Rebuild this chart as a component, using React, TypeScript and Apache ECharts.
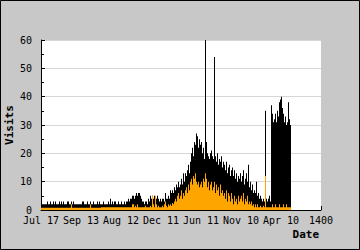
import React, { useEffect, useRef } from "react";
import * as echarts from "echarts";

// One bin = 5 days; bins start at day 0.
const BIN_DAYS = 5;

// Total visits per bin (black)
const visits: number[] = [
  2, 2, 2, 2, 2, 2, 3, 2, 2, 3,
  2, 2, 3, 2, 3, 2, 2, 2, 3, 2,
  3, 2, 3, 2, 2, 2, 3, 3, 2, 2,
  3, 2, 3, 2, 2, 2, 2, 2, 2, 2,
  2, 3, 3, 2, 2, 2, 3, 2, 2, 3,
  2, 2, 3, 2, 2, 2, 3, 2, 3, 2,
  2, 2, 3, 2, 2, 2, 2, 3, 2, 4,
  2, 3, 2, 3, 3, 2, 2, 3, 2, 2,
  3, 2, 2, 3, 2, 3, 3, 4, 3, 4,
  4, 5, 5, 4, 5, 6, 5, 6, 6, 5,
  4, 3, 3, 2, 3, 3, 2, 4, 3, 5,
  4, 5, 4, 5, 4, 4, 5, 4, 3, 4,
  3, 4, 4, 3, 6, 4, 4, 5, 4, 7,
  6, 7, 6, 8, 7, 9, 8, 10, 8, 9,
  11, 9, 13, 10, 13, 12, 14, 16, 13, 17,
  20, 22, 19, 24, 23, 27, 26, 22, 25, 23,
  24, 20, 22, 18, 60, 24, 20, 19, 18, 20,
  21, 19, 18, 54, 19, 17, 20, 16, 18, 17,
  19, 15, 17, 16, 14, 17, 13, 15, 16, 12,
  14, 15, 12, 14, 11, 13, 10, 12, 11, 13,
  10, 12, 14, 9, 11, 13, 10, 16, 8, 10,
  7, 9, 6, 7, 6, 10, 5, 6, 4, 5,
  4, 3, 4, 3, 35, 4, 3, 4, 5, 3,
  37, 34, 31, 32, 34, 31, 35, 33, 38, 39,
  40, 36, 34, 31, 33, 30, 31, 38, 32, 30,
];

// Second series per bin (orange)
const returning: number[] = [
  0.8, 0.8, 0.8, 0.8, 0.8, 0.8, 0.8, 0.8, 0.8, 0.8,
  0.8, 0.8, 0.8, 0.8, 0.8, 0.8, 0.8, 0.8, 0.8, 0.8,
  0.8, 0.8, 0.8, 0.8, 0.8, 0.8, 0.8, 0.8, 0.8, 0.8,
  2, 0.8, 0.8, 0.8, 0.8, 0.8, 0.8, 0.8, 0.8, 0.8,
  0.8, 0.8, 0.8, 0.8, 0.8, 0.8, 0.8, 0.8, 0.8, 2,
  0.8, 0.8, 0.8, 0.8, 0.8, 0.8, 0.8, 0.8, 0.8, 0.8,
  1, 1, 1, 1, 1, 1, 1, 1, 1, 1,
  1, 1, 1, 1, 1, 1, 1, 1, 1, 1,
  1, 1, 1, 1, 1, 1, 1, 1, 1, 1,
  1, 2, 2, 1, 1.5, 1, 2, 1, 1, 1,
  1, 1, 1, 1, 1.5, 1, 1, 1, 1, 1.5,
  1, 5, 2, 1, 5, 2, 1, 1.5, 1, 1,
  1, 1.5, 1, 2, 3, 1.5, 1, 2, 1.5, 2,
  1.5, 2.5, 2, 3, 4, 3, 5, 6, 4, 5,
  7, 4, 6, 5, 7, 8, 6, 9, 7, 10,
  11, 9, 12, 11, 13, 10, 9, 10, 8, 9,
  10, 8, 11, 10, 13, 11, 8, 10, 7, 9,
  10, 7, 8, 10, 6, 9, 7, 8, 5, 9,
  6, 7, 5, 6, 4, 7, 3, 6, 5, 3,
  6, 4, 2, 5, 3, 4, 2, 5, 3, 4,
  5, 3, 6, 2, 4, 3, 5, 2, 3, 2,
  3, 1.5, 2, 1, 2, 1, 2, 1, 1, 1.5,
  1, 1, 1.5, 1, 12, 1, 1, 1, 1, 1,
  1, 2, 1, 1, 2, 1, 1, 1, 2, 1,
  1, 1, 2, 1, 1, 2, 1, 1, 1, 1,
];

const xTickValues: number[] = [0, 200, 400, 600, 800, 1000, 1200, 1400];
const xTickLabels: string[] = ["Jul 17", "Sep 13", "Aug 12", "Dec 11", "Jun 11", "Nov 10", "Apr 10", "1400"];

const FONT = "'DejaVu Sans Mono', monospace";

export default function App() {
  const ref = useRef<HTMLDivElement>(null);
  useEffect(() => {
    if (!ref.current) return;
    const chart = echarts.init(ref.current, undefined, { renderer: "svg" });
    const toPoints = (arr: number[]) => arr.map((v, i) => [i * BIN_DAYS + BIN_DAYS / 2, v]);
    const labelMap: Record<number, string> = {};
    xTickValues.forEach((v, i) => (labelMap[v] = xTickLabels[i]));
    chart.setOption({
      animation: false,
      backgroundColor: "#c8c8c8",
      grid: {
        left: 41, right: 39, top: 40, bottom: 40,
        show: true, backgroundColor: "#ffffff", borderWidth: 0,
        outerBoundsMode: "none",
      },
      xAxis: {
        type: "value", min: 0, max: 1400, interval: 200,
        axisLine: { show: true, lineStyle: { color: "#000", width: 1 } },
        axisTick: { show: true, inside: true, length: 4, lineStyle: { color: "#000" } },
        axisLabel: {
          formatter: (v: number) => labelMap[v] ?? String(v),
          fontFamily: FONT, fontSize: 10, color: "#000", margin: 5,
          showMinLabel: true, showMaxLabel: true,
        },
        splitLine: { show: false },
      },
      yAxis: {
        type: "value", min: 0, max: 60, interval: 10,
        axisLine: { show: true, lineStyle: { color: "#000", width: 1 } },
        axisTick: { show: true, inside: true, length: 4, lineStyle: { color: "#000" } },
        minorTick: { show: true, splitNumber: 2, length: 3, lineStyle: { color: "#000" } },
        axisLabel: { fontFamily: FONT, fontSize: 10, color: "#000", margin: 9 },
        splitLine: { show: true, lineStyle: { color: "#d6d6d6", width: 1 } },
      },
      graphic: [
        {
          type: "text", x: 9, y: 125, rotation: Math.PI / 2,
          style: {
            text: "Visits", font: `bold 11px ${FONT}`, fill: "#000",
            align: "center", verticalAlign: "middle",
          },
        },
        {
          type: "text", right: 41, top: 229,
          style: { text: "Date", font: `bold 11px ${FONT}`, fill: "#000" },
        },
        {
          type: "rect", silent: true, z: 100,
          shape: { x: 0.5, y: 0.5, width: 359, height: 249 },
          style: { fill: "none", stroke: "#000", lineWidth: 1 },
        },
      ],
      series: [
        {
          name: "Visits", type: "bar", data: toPoints(visits),
          barWidth: 1, barGap: "-100%",
          itemStyle: { color: "#000000" },
        },
        {
          name: "Returning", type: "bar", data: toPoints(returning),
          barWidth: 1, barGap: "-100%",
          itemStyle: { color: "#ffa500" },
        },
      ],
    });
    return () => chart.dispose();
  }, []);
  return (
    <div
      ref={ref}
      style={{ position: "absolute", left: 0, top: 0, width: 360, height: 250 }}
    />
  );
}
